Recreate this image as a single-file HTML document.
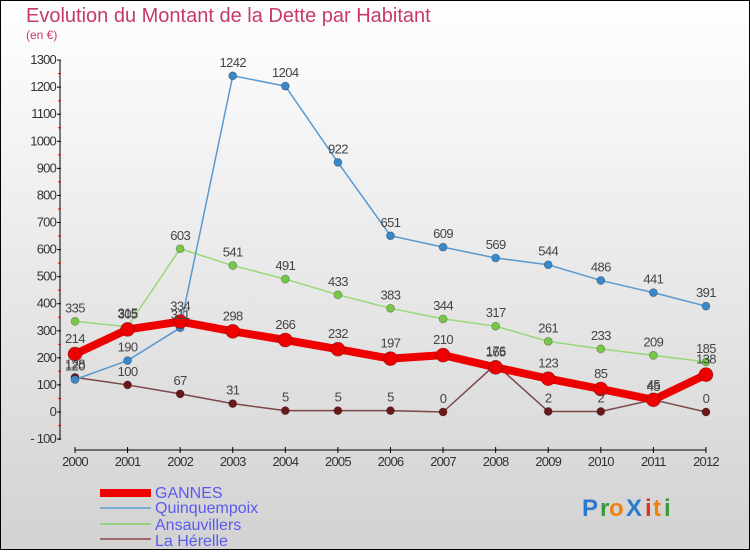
<!DOCTYPE html>
<html><head><meta charset="utf-8"><style>
html,body{margin:0;padding:0}
body{width:750px;height:550px;overflow:hidden;font-family:"Liberation Sans",sans-serif}
</style></head><body>
<svg id="s" width="750" height="550" xmlns="http://www.w3.org/2000/svg" font-family="Liberation Sans, sans-serif">
<defs><linearGradient id="bg" x1="0" y1="0" x2="0" y2="1"><stop offset="0" stop-color="#ffffff"/><stop offset="1" stop-color="#d2d2d2"/></linearGradient></defs>
<rect x="0.5" y="0.5" width="749" height="549" fill="url(#bg)" stroke="#000"/>
<text x="26" y="22" font-size="20" fill="#c8386e" font-weight="300">Evolution du Montant de la Dette par Habitant</text>
<text x="26" y="39" font-size="12" fill="#c8386e">(en €)</text>
<g id="g"></g>
<text x="155" y="498" font-size="16" fill="#5a5af0">GANNES</text>
<text x="155" y="513" font-size="16" fill="#5a5af0">Quinquempoix</text>
<text x="155" y="530" font-size="16" fill="#5a5af0">Ansauvillers</text>
<text x="155" y="546" font-size="16" fill="#5a5af0">La Hérelle</text>
<rect x="100" y="489" width="51" height="8" fill="#ee0000"/>
<rect x="100" y="507" width="51" height="2" fill="#7aaed0"/>
<rect x="100" y="523" width="51" height="2" fill="#98d080"/>
<rect x="100" y="538" width="51" height="2" fill="#a06868"/>
<g font-size="24" font-weight="bold" font-family="Liberation Sans, sans-serif">
<text x="582" y="516" fill="#2a7ad0">P</text><text x="600" y="516" fill="#3a9a3a">r</text><text x="609" y="516" fill="#f08010">o</text><text x="626" y="516" fill="#2a7ad0">X</text><text x="645" y="516" fill="#e03020">i</text><text x="653" y="516" fill="#f08010">t</text><text x="664" y="516" fill="#3a9a3a">i</text>
</g>
</svg>
<script>
var g=document.getElementById('g'),h='';
function X(i){return 75+i*52.58}
function Y(v){return 412-v*0.2707}
h+='<line x1="60" y1="60" x2="60" y2="440" stroke="#000"/>';
for(var v=-100;v<=1300;v+=100){var y=Y(v);h+='<line x1="57" y1="'+y+'" x2="61" y2="'+y+'" stroke="#000"/><text x="56" y="'+(y+4)+'" font-size="13" fill="#333" text-anchor="end" letter-spacing="-0.8">'+(v<0?'- 100':v)+'</text>';
if(v<1300)h+='<line x1="58" y1="'+Y(v+50)+'" x2="61" y2="'+Y(v+50)+'" stroke="#e00"/>';}
h+='<line x1="75" y1="450" x2="706" y2="450" stroke="#000"/>';
for(var i=0;i<13;i++){h+='<line x1="'+X(i)+'" y1="447" x2="'+X(i)+'" y2="453" stroke="#000"/><text x="'+X(i)+'" y="466" font-size="13" fill="#333" text-anchor="middle" letter-spacing="-0.8">'+(2000+i)+'</text>';}
var S=[
{d:[128,100,67,31,5,5,5,0,176,2,2,45,0],c:'#7a4848',p:'#6a1818',w:1.5,r:4},
{d:[335,315,603,541,491,433,383,344,317,261,233,209,185],c:'#98d878',p:'#78c848',w:1.5,r:4},
{d:[120,190,311,1242,1204,922,651,609,569,544,486,441,391],c:'#5a9ad0',p:'#3a88c8',w:1.5,r:4},
{d:[214,305,334,298,266,232,197,210,165,123,85,45,138],c:'#ee0000',p:'#ee0000',w:8,r:7}];
S.forEach(function(s){var pts=s.d.map(function(v,i){return X(i)+','+Y(v)}).join(' ');
h+='<polyline points="'+pts+'" fill="none" stroke="'+s.c+'" stroke-width="'+s.w+'" stroke-linejoin="round"/>';
s.d.forEach(function(v,i){h+='<circle cx="'+X(i)+'" cy="'+Y(v)+'" r="'+s.r+'" fill="'+s.p+'" stroke="rgba(0,0,0,0.3)" stroke-width="0.8"/>';});});
S.forEach(function(s){s.d.forEach(function(v,i){h+='<text x="'+X(i)+'" y="'+(Y(v)-(s.r>5?11:9))+'" font-size="13" fill="#444" text-anchor="middle" letter-spacing="-0.6">'+v+'</text>';});});
g.innerHTML=h;
</script>
</body></html>
